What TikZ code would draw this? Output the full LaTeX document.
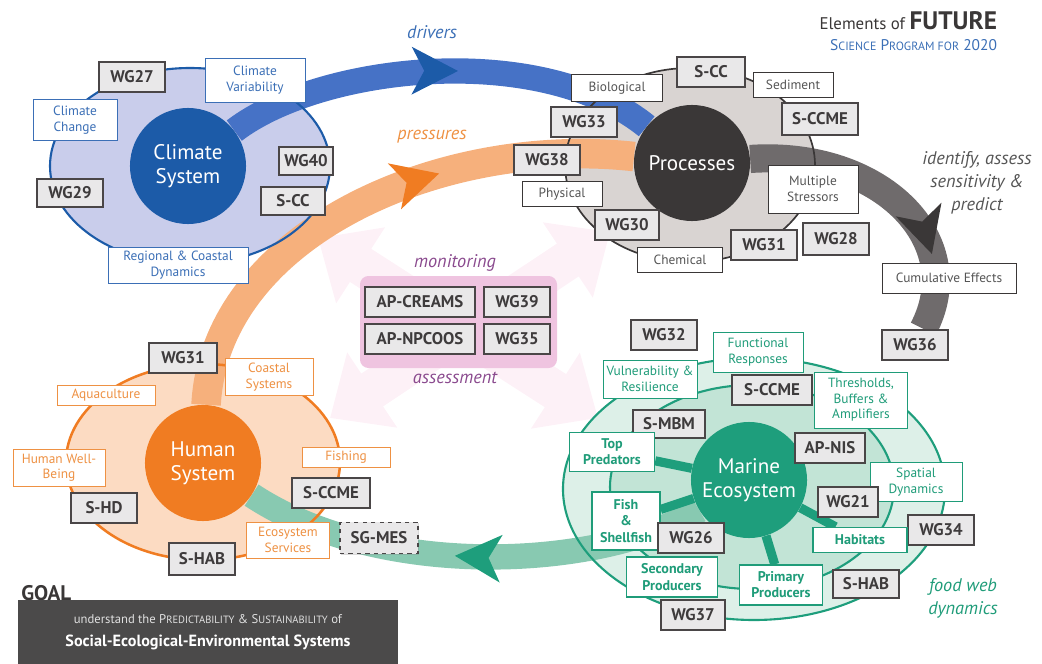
\documentclass[tikz,border=0pt]{standalone}
\usepackage{fontspec}
\setmainfont{PT Sans}
\usetikzlibrary{arrows.meta,decorations.markings,shadows}

\definecolor{climblue}{HTML}{1C5BA8}
\definecolor{climfill}{HTML}{C9CDEB}
\definecolor{climband}{HTML}{4672C6}
\definecolor{climtext}{HTML}{3B6FB6}
\definecolor{procdark}{HTML}{3A3737}
\definecolor{procfill}{HTML}{D9D4D2}
\definecolor{procband}{HTML}{6F6B6C}
\definecolor{proctext}{HTML}{555555}
\definecolor{humorange}{HTML}{F07C22}
\definecolor{humfill}{HTML}{FCDBC2}
\definecolor{humband}{HTML}{F6B07C}
\definecolor{humtext}{HTML}{EE9143}
\definecolor{marteal}{HTML}{1E9E7C}
\definecolor{marouter}{HTML}{DDF0E8}
\definecolor{marinner}{HTML}{C2E4D6}
\definecolor{marband}{HTML}{88C9B1}
\definecolor{martext}{HTML}{1F9C79}
\definecolor{boxfill}{HTML}{E9E8E9}
\definecolor{boxline}{HTML}{4A4647}
\definecolor{boxtext}{HTML}{3E3B3C}
\definecolor{pinkpanel}{HTML}{EFC4E0}
\definecolor{pinkx}{HTML}{FDF1F7}
\definecolor{purpletext}{HTML}{8A4A8E}
\definecolor{goalgray}{HTML}{4B4A4A}

\pgfdeclarelayer{bg}
\pgfdeclarelayer{band}
\pgfsetlayers{bg,band,main}

\tikzstyle{wg}=[draw=boxline, fill=boxfill, line width=1.5pt, text=boxtext, font=\fontsize{12}{13}\selectfont\bfseries, minimum width=1.63cm, minimum height=0.75cm, inner sep=1pt, drop shadow={opacity=0.3,shadow xshift=0.7pt,shadow yshift=-0.7pt}]
\tikzstyle{lab}=[draw, fill=white, line width=0.6pt, align=center, inner sep=1pt, font=\fontsize{9.5}{11}\selectfont]
\tikzstyle{clab}=[lab, draw=climtext, text=climtext]
\tikzstyle{plab}=[lab, draw=procdark, text=proctext]
\tikzstyle{hlab}=[lab, draw=humtext, text=humtext]
\tikzstyle{mlab}=[lab, draw=martext, text=martext]
\tikzstyle{mkey}=[lab, draw=martext, text=martext, line width=0.9pt, font=\fontsize{10}{11.5}\selectfont\bfseries]
\tikzstyle{hub}=[circle, minimum size=2.9cm, inner sep=0pt, text=white, align=center, font=\fontsize{15}{17}\selectfont]
\tikzstyle{note}=[align=center, font=\fontsize{13}{16.5}\selectfont\itshape]
\tikzstyle{spoke}=[marteal, line width=6.5pt]
\tikzset{tipat/.style 2 args={postaction={decorate}, decoration={markings, mark=at position #1 with {\arrow[#2]{Stealth[length=33pt,width=34pt,inset=9pt,line width=0pt]}}}}}

\begin{document}
\begin{tikzpicture}[x=0.025cm,y=-0.025cm]
\useasboundingbox (0,0) rectangle (1042,664);

% the four systems
\node [hub, fill=climblue] (clim) at (188,166) {Climate\\System};
\node [hub, fill=procdark] (proc) at (692,163) {Processes};
\node [hub, fill=humorange] (hum) at (203,463) {Human\\System};
\node [hub, fill=marteal] (mar) at (749,480) {Marine\\Ecosystem};

% climate
\node [wg] (wg27) at (132,77) {WG27};
\node [clab, minimum width=2.5cm, minimum height=1.1cm] (clvar) at (255,80) {Climate\\Variability};
\node [clab, minimum width=2.1cm, minimum height=1.03cm] (clchg) at (75,120) {Climate\\Change};
\node [wg, minimum height=0.7cm] (wg29) at (70,193) {WG29};
\node [wg, minimum width=1.35cm, minimum height=0.7cm] (wg40) at (306,161) {WG40};
\node [wg, minimum width=1.6cm, minimum height=0.7cm] (scca) at (293,201) {S-CC};
\node [clab, minimum width=3.5cm, minimum height=0.9cm] (clreg) at (178,265) {Regional \& Coastal\\Dynamics};

% processes
\node [plab, minimum width=2.28cm, minimum height=0.68cm] (bio) at (617,88) {Biological};
\node [wg, minimum width=1.68cm] (sccb) at (711,72) {S-CC};
\node [plab, minimum width=2cm, minimum height=0.63cm] (sed) at (793,85) {Sediment};
\node [wg, minimum width=1.9cm, minimum height=0.8cm] (sccmea) at (820,119) {S-CCME};
\node [wg] (wg33) at (584,122) {WG33};
\node [wg] (wg38) at (547,160) {WG38};
\node [plab, minimum width=2cm, minimum height=0.63cm] (phys) at (562,194) {Physical};
\node [wg, minimum width=1.58cm] (wg30) at (627,225) {WG30};
\node [plab, minimum width=2.13cm, minimum height=0.63cm] (chem) at (680,260) {Chemical};
\node [wg] (wg31b) at (764,245) {WG31};
\node [plab, minimum width=2.25cm, minimum height=1.2cm] (mstr) at (813,189) {Multiple\\Stressors};
\node [wg, minimum height=0.8cm] (wg28) at (836,239) {WG28};
\node [plab, minimum width=3.35cm, minimum height=0.75cm] (cumul) at (949,278) {Cumulative Effects};
\node [wg] (wg36) at (915,345) {WG36};

% human
\node [wg, minimum width=1.68cm] (wg31a) at (183,358) {WG31};
\node [hlab, minimum width=2.2cm, minimum height=0.93cm] (coast) at (269,377) {Coastal\\Systems};
\node [hlab, minimum width=2.45cm, minimum height=0.5cm] (aqua) at (106,395) {Aquaculture};
\node [hlab, minimum width=2.3cm, minimum height=0.93cm] (well) at (59,468) {Human Well-\\Being};
\node [hlab, minimum width=2.2cm, minimum height=0.5cm] (fishing) at (346,457) {Fishing};
\node [wg, minimum width=1.93cm] (sccmeb) at (331,493) {S-CCME};
\node [wg] (shd) at (104,508) {S-HD};
\node [hlab, minimum width=2.08cm, minimum height=0.9cm] (ecos) at (288,540) {Ecosystem\\Services};
\node [wg, dashed, line width=1.2pt, minimum width=1.95cm, minimum height=0.78cm] (sgmes) at (379,538) {SG-MES};
\node [wg, minimum height=0.8cm] (shaba) at (202,559) {S-HAB};

% monitoring & assessment
\node [wg, minimum width=2.75cm] (apc) at (420,302) {AP-CREAMS};
\node [wg] (wg39) at (517,302) {WG39};
\node [wg, minimum width=2.75cm] (apn) at (420,339) {AP-NPCOOS};
\node [wg] (wg35) at (517,339) {WG35};
\node [note, text=purpletext] (mon) at (455,263) {monitoring};
\node [note, text=purpletext] (ass) at (455,378) {assessment};

% marine
\node [wg] (wg32) at (664,335) {WG32};
\node [mlab, minimum width=2.25cm, minimum height=1cm] (func) at (758,352) {Functional\\Responses};
\node [mlab, minimum width=2.35cm, minimum height=0.95cm] (vuln) at (650,379) {Vulnerability \&\\Resilience};
\node [wg, minimum width=1.98cm] (sccmec) at (772,390) {S-CCME};
\node [mlab, minimum width=2.33cm, minimum height=1.4cm] (thr) at (861,400) {Thresholds,\\Buffers \&\\Amplifiers};
\node [wg, minimum width=1.8cm, minimum height=0.7cm] (smbm) at (669,424) {S-MBM};
\node [mkey, minimum width=2.13cm, minimum height=0.98cm] (toppred) at (612,452) {Top\\Predators};
\node [wg, minimum width=1.75cm] (apnis) at (830,448) {AP-NIS};
\node [mlab, minimum width=2.3cm, minimum height=0.98cm] (spat) at (916,482) {Spatial\\Dynamics};
\node [mkey, minimum width=1.7cm, minimum height=1.45cm] (fishsh) at (626,521) {Fish\\\&\\Shellfish};
\node [wg, minimum width=1.5cm] (wg21) at (848,502) {WG21};
\node [wg] (wg26) at (691,538) {WG26};
\node [wg] (wg34) at (941,530) {WG34};
\node [mkey, minimum width=2.35cm, minimum height=0.63cm] (hab) at (860,540) {Habitats};
\node [mkey, minimum width=2.28cm, minimum height=1cm] (secp) at (672,577) {Secondary\\Producers};
\node [mkey, minimum width=2.08cm, minimum height=1cm] (prim) at (781,585) {Primary\\Producers};
\node [wg, minimum height=0.7cm] (shabb) at (866,584) {S-HAB};
\node [wg, minimum width=1.58cm] (wg37) at (693,615) {WG37};

% flow labels
\node [note, text=climtext] (drv) at (432,32) {drivers};
\node [note, text=humtext] (prs) at (432,137) {pressures};
\node [note, text=proctext] (idt) at (977,183) {identify, assess\\sensitivity \&\\predict};
\node [note, text=martext] (fwd) at (963,598) {food web\\dynamics};

% title and goal
\node [anchor=east, text=procdark, font=\fontsize{12}{14}\selectfont] (ttl) at (1002,21) {Elements of {\fontsize{18}{20}\selectfont\bfseries FUTURE}};
\node [anchor=east, text=climtext, font=\fontsize{11}{13}\selectfont] (sub) at (1002,45) {S{\fontsize{8.5}{10}\selectfont CIENCE} P{\fontsize{8.5}{10}\selectfont ROGRAM FOR} 2020};
\node [anchor=west, text=procdark, font=\fontsize{15}{17}\selectfont\bfseries, inner sep=0pt] (goalt) at (21,593) {GOAL};
\node [anchor=north west, fill=goalgray, text=white, minimum width=9.48cm, minimum height=1.6cm, align=center, font=\fontsize{11.5}{16}\selectfont\bfseries] (goal) at (18,600) {{\mdseries\color{black!12}\fontsize{9}{16}\selectfont understand the P{\fontsize{7.5}{9}\selectfont REDICTABILITY} \& S{\fontsize{7.5}{9}\selectfont USTAINABILITY} of}\\Social-Ecological-Environmental Systems};

\begin{pgfonlayer}{bg}
  \draw[pinkx, line width=28pt, {Triangle[length=36pt,width=62pt]}-{Triangle[length=36pt,width=62pt]}] (318,238) -- (598,418);
  \draw[pinkx, line width=28pt, {Triangle[length=36pt,width=62pt]}-{Triangle[length=36pt,width=62pt]}] (610,232) -- (330,418);
  \fill[climfill] (190,166) ellipse [x radius=140, y radius=98];
  \fill[procfill] (690,165) ellipse [x radius=125, y radius=97];
  \fill[humfill] (203,462) ellipse [x radius=137, y radius=98];
  \fill[marouter] (754,489) ellipse [x radius=191, y radius=131];
  \fill[marinner] (752,487) ellipse [x radius=142, y radius=102];
  \fill[pinkpanel, rounded corners=6pt] (360,276) rectangle (557,368);
\end{pgfonlayer}

\begin{pgfonlayer}{band}
  \draw[climband, line width=18pt, tipat={0.54}{climblue}] (clim) .. controls (320,65) and (540,40) .. (proc);
  \draw[humband, line width=21pt, tipat={0.64}{humorange}] (hum) .. controls (215,235) and (440,135) .. (proc);
  \draw[procband, line width=20pt, tipat={0.74}{procdark}] (proc) .. controls (880,150) and (970,240) .. (wg36);
  \draw[marband, line width=18pt, tipat={0.54}{marteal}] (mar) .. controls (600,570) and (380,580) .. (hum);
  \draw[spoke] (mar) -- (toppred);
  \draw[spoke] (mar) -- (fishsh);
  \draw[spoke] (mar) -- (prim);
  \draw[spoke] (mar) -- (hab);
  \draw[climblue, line width=1.5pt] (190,166) ellipse [x radius=140, y radius=98];
  \draw[procdark, line width=1.2pt] (690,165) ellipse [x radius=125, y radius=97];
  \draw[humorange, line width=1.8pt] (203,462) ellipse [x radius=137, y radius=98];
  \draw[marteal, line width=1.5pt] (754,489) ellipse [x radius=191, y radius=131];
  \draw[marteal, line width=1.5pt] (752,487) ellipse [x radius=142, y radius=102];
\end{pgfonlayer}
\end{tikzpicture}
\end{document}
